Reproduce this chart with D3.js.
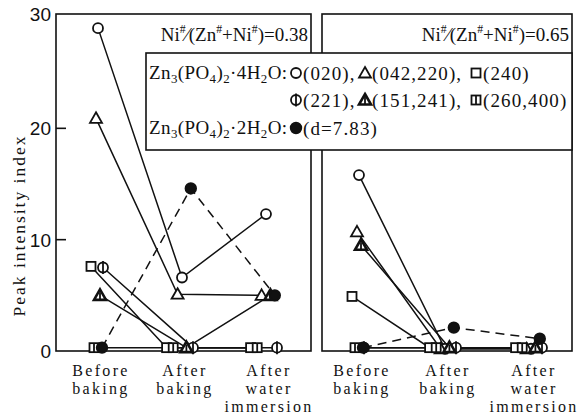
<!DOCTYPE html>
<html>
<head>
<meta charset="utf-8">
<script src="https://cdn.jsdelivr.net/npm/d3@7"></script>
<style>
  body { margin: 0; background: #fff; }
  svg { display: block; }
  text { font-family: "Liberation Serif", "DejaVu Serif", serif; fill: #111; }
</style>
</head>
<body>
<svg id="chart" width="586" height="416"></svg>
<script>
// categories along x, one panel per Ni/(Zn+Ni) ratio
const categories = [["Before", "baking"], ["After", "baking"], ["After", "water", "immersion"]];
const ratios = ["0.38", "0.65"];
const yTicks = [0, 10, 20, 30];

// peak intensity index, [panel][category]
const peak020     = [[29.0, 6.6, 12.3], [15.8, 0.2, 0.2]];
const peak042_220 = [[20.9, 5.1, 5.0],  [10.7, 0.2, 0.2]];
const peak240     = [[7.6, 0.3, 0.3],   [4.9, 0.3, 0.3]];
const peak221     = [[7.5, 0.3, 0.3],   [0.3, 0.3, 0.3]];
const peak151_241 = [[5.0, 0.3, 5.0],   [9.5, 0.3, 0.3]];
const peak260_400 = [[0.3, 0.3, 0.3],   [0.3, 0.3, 0.3]];
const peakD783    = [[0.3, 14.6, 5.0],  [0.3, 2.1, 1.1]];

const series = [
  {label: "(020)",     sym: "circle",   dodge: 0,  values: peak020},
  {label: "(042,220)", sym: "tri",      dodge: -2, values: peak042_220},
  {label: "(240)",     sym: "square",   dodge: -7, values: peak240},
  {label: "(221)",     sym: "phi",      dodge: 5,  values: peak221},
  {label: "(151,241)", sym: "trifill",  dodge: 2,  values: peak151_241},
  {label: "(260,400)", sym: "sqbar",    dodge: -4, values: peak260_400},
  {label: "(d=7.83)",  sym: "dot",      dodge: 4,  values: peakD783, dashed: true}
];
// markers spread wider where many points sit on the axis
const spread = [1, 2.2, 2.2];

const svg = d3.select("#chart");
const y = d3.scaleLinear().domain([0, 30]).range([351, 17]);
const frameTop = 14, frameBottom = 351;
const panels = [
  {x0: 56, x1: 311, xr: [98, 266]},
  {x0: 322, x1: 572, xr: [359, 531]}
];

function marker(g, sym, cx, cy) {
  const s = g.append("g").attr("transform", `translate(${cx},${cy})`)
    .attr("stroke", "#111").attr("stroke-width", 1.8).attr("fill", "#fff");
  if (sym === "circle" || sym === "phi") {
    s.append("circle").attr("r", 5);
    if (sym === "phi") s.append("line").attr("y1", -6.5).attr("y2", 6.5);
  } else if (sym === "dot") {
    s.append("circle").attr("r", 5.3).attr("fill", "#111");
  } else if (sym === "tri" || sym === "trifill") {
    s.append("path").attr("d", "M0,-6L6,4.5L-6,4.5Z").attr("fill", "#fff")
      .attr("stroke-width", sym === "trifill" ? 2.6 : 1.8);
    if (sym === "trifill") s.append("line").attr("y1", -3).attr("y2", 4.5);
  } else {
    s.append("rect").attr("x", -4.5).attr("y", -4.5).attr("width", 9).attr("height", 9);
    if (sym === "sqbar") s.append("line").attr("y1", -4.5).attr("y2", 4.5);
  }
}

// text with sub/superscript pieces: [text, "sub"|"sup"|undefined]
function rich(sel, parts, size) {
  const shift = {sub: 4, sup: -8};
  let prev = 0;
  parts.forEach(([t, k]) => {
    const cur = shift[k] || 0;
    sel.append("tspan").text(t)
      .attr("font-size", k === "sub" ? size * 0.68 : k === "sup" ? size * 0.62 : size)
      .attr("dy", cur - prev);
    prev = cur;
  });
}

panels.forEach((p, pi) => {
  const x = d3.scalePoint().domain(d3.range(categories.length)).range(p.xr);
  const g = svg.append("g");
  const px = (s, i) => x(i) + s.dodge * spread[i];

  // frame
  g.append("rect").attr("x", p.x0).attr("y", frameTop).attr("width", p.x1 - p.x0).attr("height", frameBottom - frameTop)
    .attr("fill", "none").attr("stroke", "#111").attr("stroke-width", 1.6);

  // lines
  const line = d3.line().x(d => d[0]).y(d => d[1]);
  series.forEach(s => {
    const pts = s.values[pi].map((v, i) => [px(s, i), y(v)]);
    g.append("path").attr("d", line(pts)).attr("fill", "none")
      .attr("stroke", "#111").attr("stroke-width", 1.5)
      .attr("stroke-dasharray", s.dashed ? "9,6" : null);
  });
  series.forEach(s => {
    s.values[pi].forEach((v, i) => marker(g, s.sym, px(s, i), y(v)));
  });

  // category labels
  categories.forEach((c, i) => {
    const t = g.append("text").attr("text-anchor", "middle").attr("font-size", 16)
      .attr("letter-spacing", 2.3).attr("y", 376);
    c.forEach((w, j) => t.append("tspan").attr("x", x(i) + 3).attr("dy", j ? 18 : 0).text(w));
  });

  // ratio label
  const rt = g.append("text").attr("text-anchor", "end").attr("x", p.x1 - 3).attr("y", 41);
  rich(rt, [["Ni"], ["#", "sup"], ["⁄(Zn"], ["#", "sup"], ["+Ni"], ["#", "sup"], [")=" + ratios[pi]]], 19);

  if (pi === 0) {
    // y axis
    yTicks.forEach(v => {
      if (v > 0 && v < 30) g.append("line").attr("x1", p.x0).attr("x2", p.x0 + 10)
        .attr("y1", y(v)).attr("y2", y(v)).attr("stroke", "#111").attr("stroke-width", 1.6);
      g.append("text").attr("x", p.x0 - 5).attr("y", v === 30 ? frameTop + 7 : y(v) + 7)
        .attr("text-anchor", "end").attr("font-size", 19)
        .style("font-family", "'Liberation Sans', Arial, sans-serif").text(v);
    });
    g.append("text").attr("transform", `translate(25,${(frameTop + frameBottom) / 2 + 43}) rotate(-90)`)
      .attr("text-anchor", "middle").attr("font-size", 17.5).attr("letter-spacing", 2)
      .text("Peak intensity index");
  }
});

// legend
const lg = svg.append("g");
lg.append("rect").attr("x", 146).attr("y", 53).attr("width", 426).attr("height", 97)
  .attr("fill", "#fff").attr("stroke", "#111").attr("stroke-width", 1.6);
const fs = 19;
rich(lg.append("text").attr("x", 149).attr("y", 79).attr("letter-spacing", 0.4),
  [["Zn"], ["3", "sub"], ["(PO"], ["4", "sub"], [")"], ["2", "sub"], ["·4H"], ["2", "sub"], ["O:"]], fs);
rich(lg.append("text").attr("x", 149).attr("y", 134).attr("letter-spacing", 0.4),
  [["Zn"], ["3", "sub"], ["(PO"], ["4", "sub"], [")"], ["2", "sub"], ["·2H"], ["2", "sub"], ["O:"]], fs);
const cols = [296, 365, 476];
const rows = [73, 100, 128];
const legendItems = [[0, 0], [1, 0], [2, 0], [0, 1], [1, 1], [2, 1], [0, 2]];
series.forEach((s, i) => {
  const [c, r] = legendItems[i];
  marker(lg, s.sym, cols[c], rows[r]);
  lg.append("text").attr("x", cols[c] + 7).attr("y", rows[r] + 7).attr("font-size", fs)
    .attr("letter-spacing", 1.1).text(s.label + (c < 2 && r < 2 ? "," : ""));
});
</script>
</body>
</html>
